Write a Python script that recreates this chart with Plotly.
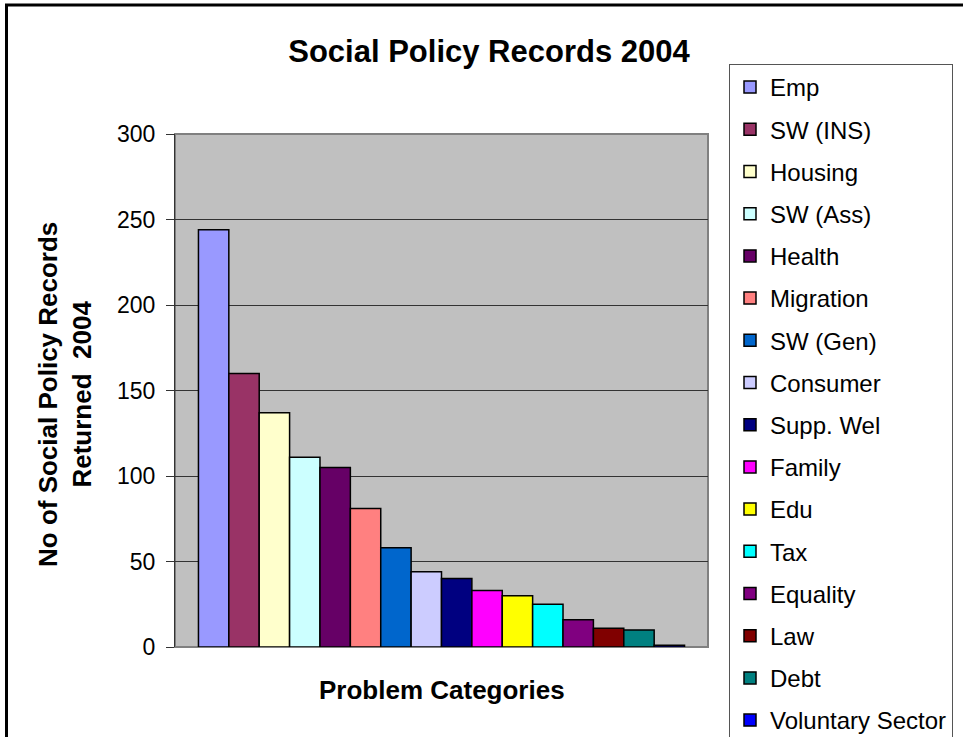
import plotly.graph_objects as go

# ---- data ----
categories = ["Emp", "SW (INS)", "Housing", "SW (Ass)", "Health", "Migration",
              "SW (Gen)", "Consumer", "Supp. Wel", "Family", "Edu", "Tax",
              "Equality", "Law", "Debt", "Voluntary Sector"]
values = [244, 160, 137, 111, 105, 81, 58, 44, 40, 33, 30, 25, 16, 11, 10, 1]
colors = ["#9999FF", "#993366", "#FFFFCC", "#CCFFFF", "#660066", "#FF8080",
          "#0066CC", "#CCCCFF", "#000080", "#FF00FF", "#FFFF00", "#00FFFF",
          "#800080", "#800000", "#008080", "#0000FF"]
y_ticks = [0, 50, 100, 150, 200, 250, 300]

# ---- layout geometry (pixels) ----
W, H = 963, 737
PL, PR, PT, PB = 175, 708, 134, 647
pw, ph = PR - PL, PB - PT


def px(x):
    return (x - PL) / pw


def py(y):
    return (PB - y) / ph


FONT = "Liberation Sans, Arial, sans-serif"

fig = go.Figure()
for i, (name, v, c) in enumerate(zip(categories, values, colors)):
    fig.add_trace(go.Bar(
        x=[0], y=[v], name=name, legendgroup=f"g{i}",
        marker=dict(color=c, line=dict(color="#000000", width=1.5)),
    ))

fig.update_layout(
    width=W, height=H,
    margin=dict(l=PL, r=W - PR, t=PT, b=H - PB, autoexpand=False),
    paper_bgcolor="white",
    plot_bgcolor="#C0C0C0",
    barmode="group",
    bargap=0.088,
    bargroupgap=0,
    font=dict(family=FONT, color="#000000"),
    title=dict(text="<b>Social Policy Records 2004</b>",
               font=dict(size=31, family=FONT, color="#000000"),
               x=px(489), xref="paper", xanchor="center",
               y=1 - 51 / H, yref="container", yanchor="middle"),
    xaxis=dict(range=[-0.5, 0.5], showticklabels=False, showgrid=False,
               zeroline=False, showline=False, ticks=""),
    yaxis=dict(range=[0, 300], tickvals=y_ticks, ticks="outside", ticklen=8,
               tickcolor="#333333", tickwidth=1, showline=True,
               linecolor="#333333", linewidth=1, showgrid=True,
               gridcolor="#333333", gridwidth=1, zeroline=False,
               ticklabelstandoff=6,
               tickfont=dict(size=23, family=FONT, color="#000000")),
    legend=dict(x=px(729), y=py(64), xanchor="left", yanchor="top",
                xref="paper", yref="paper", maxheight=720,
                bgcolor="white", bordercolor="#555555", borderwidth=1,
                font=dict(size=24, family=FONT, color="#000000"),
                traceorder="grouped", tracegroupgap=8, itemwidth=30),
    showlegend=True,
)

# plot area frame
fig.add_shape(type="rect", xref="paper", yref="paper", x0=0, x1=1, y0=0, y1=1,
              line=dict(color="#808080", width=2), layer="below")
# outer chart border
fig.add_shape(type="rect", xref="paper", yref="paper",
              x0=px(6.5), x1=px(W + 10), y0=py(H + 10), y1=py(5),
              line=dict(color="#000000", width=3))

# axis titles
fig.add_annotation(text="<b>Problem Categories</b>", xref="paper", yref="paper",
                   x=0.5, y=py(690), xanchor="center", yanchor="middle",
                   showarrow=False, font=dict(size=26, family=FONT, color="#000000"))
fig.add_annotation(text="<b>No of Social Policy Records<br>Returned  2004</b>",
                   xref="paper", yref="paper", x=px(65), y=py(395),
                   xanchor="center", yanchor="middle", textangle=-90,
                   showarrow=False, font=dict(size=26, family=FONT, color="#000000"))

fig.write_html("out.html", config={"displayModeBar": False},
               post_script="document.body.style.margin='0';document.body.style.overflow='hidden';")
